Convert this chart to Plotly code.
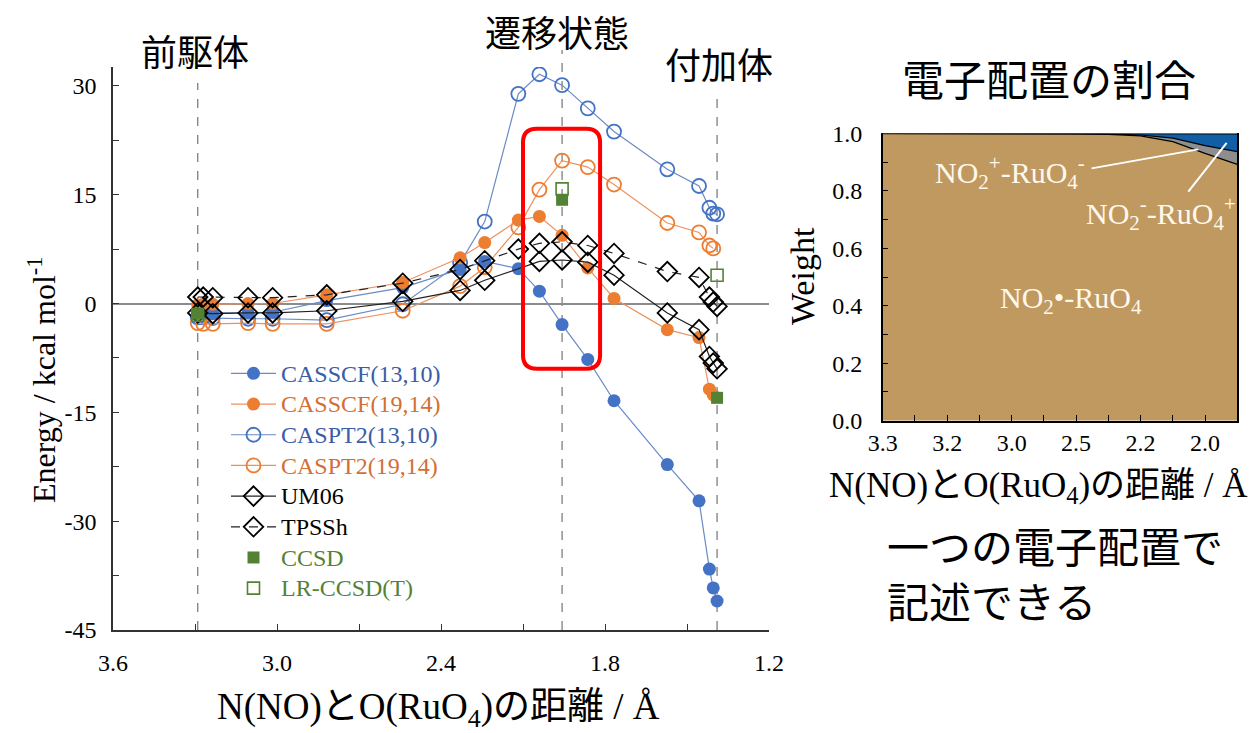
import plotly.graph_objects as go

# ---------------- data (main panel) ----------------
dist = [3.29, 3.27, 3.235, 3.106, 3.016, 2.818, 2.54, 2.33, 2.24, 2.117, 2.04,
        1.957, 1.863, 1.767, 1.572, 1.456, 1.418, 1.404, 1.39]

casscf_13_10 = [-1.3, -1.3, -1.4, -1.3, -1.2, 0.4, 2.2, 4.7, 5.8, 4.8, 1.7,
                -2.9, -7.7, -13.4, -22.2, -27.2, -36.6, -39.2, -41.0]
casscf_19_14 = [-0.2, -0.1, -0.1, 0.0, 0.0, 1.2, 2.9, 6.3, 8.4, 11.5, 12.0,
                9.4, 4.9, 0.7, -3.6, -4.7, -11.8, -12.6, None]
caspt2_13_10 = [-1.9, -1.9, -2.0, -2.1, -2.1, -2.3, -0.1, 5.6, 11.3, 28.9, 31.6,
                30.1, 26.9, 23.7, 18.5, 16.2, 13.2, 12.4, 12.3]
caspt2_19_14 = [-2.7, -2.8, -2.8, -2.7, -2.8, -2.8, -1.0, 2.4, 5.0, 10.5, 15.7,
                19.7, 18.8, 16.4, 11.1, 9.8, 8.0, 7.6, None]
um06 = [-1.3, None, -1.4, -1.3, -1.3, -1.0, 0.3, 1.8, 3.2, None, 5.8,
        6.0, 5.7, 3.9, -1.3, -3.6, -7.3, -8.2, -9.0]
tpssh = [0.9, 0.9, 0.8, 0.8, 0.8, 1.2, 2.8, 4.7, 5.9, 7.5, 8.3,
         8.5, 8.0, 6.9, 4.4, 3.6, 0.9, 0.2, -0.4]

cc_dist = [3.29, 1.957, 1.39]
ccsd = [-1.4, 14.3, -13.0]
lr_ccsd_t = [-1.6, 15.8, 3.9]

stationary_points = [3.29, 1.957, 1.39]   # precursor, TS, adduct

# ---------------- data (right panel: weights) ----------------
w_ticks = ["3.3", "3.2", "3.0", "2.5", "2.2", "2.0"]
w_index = list(range(12))
w_radical = [0.999, 0.999, 0.999, 0.999, 0.999, 0.998, 0.998, 0.996, 0.991, 0.971, 0.930, 0.892]
w_plus_minus = [0.001, 0.001, 0.001, 0.001, 0.001, 0.001, 0.001, 0.002, 0.003, 0.012, 0.027, 0.044]
w_minus_plus = [0.0, 0.0, 0.0, 0.0, 0.0, 0.001, 0.001, 0.002, 0.005, 0.015, 0.041, 0.062]
w_other = [round(1 - a - b - c, 3) for a, b, c in zip(w_radical, w_plus_minus, w_minus_plus)]

# ---------------- style ----------------
W, H = 1250, 733
SERIF = "Liberation Serif, Times New Roman, Noto Sans CJK JP, serif"
CJK = "Noto Sans CJK JP, sans-serif"
BLUE = "#4472C4"
BLUE_LINE = "#6A8AC6"
ORANGE = "#ED7D31"
ORANGE_LINE = "#EC9260"
GREEN = "#548235"
BLUE_TXT = "#3A5DA8"
ORANGE_TXT = "#D36F35"


def px(x):
    return x / W


def py(y):
    return 1 - y / H


def lname(text, color="black"):
    return f"<span style='color:{color};font-size:24px'>{text}</span>"


fig = go.Figure()

# draw order (legendrank controls legend order)
fig.add_trace(go.Scatter(
    x=dist, y=caspt2_13_10, mode="lines+markers", name=lname("CASPT2(13,10)", BLUE_TXT),
    legendrank=3, connectgaps=True,
    line=dict(color=BLUE_LINE, width=1.2),
    marker=dict(symbol="circle-open", size=14, color=BLUE, line=dict(width=1.8, color=BLUE))))
fig.add_trace(go.Scatter(
    x=dist, y=caspt2_19_14, mode="lines+markers", name=lname("CASPT2(19,14)", ORANGE_TXT),
    legendrank=4, connectgaps=True,
    line=dict(color=ORANGE_LINE, width=1.2),
    marker=dict(symbol="circle-open", size=14, color=ORANGE, line=dict(width=1.8, color=ORANGE))))
fig.add_trace(go.Scatter(
    x=dist, y=casscf_13_10, mode="lines+markers", name=lname("CASSCF(13,10)", BLUE_TXT),
    legendrank=1, connectgaps=True,
    line=dict(color=BLUE_LINE, width=1.2),
    marker=dict(symbol="circle", size=13, color=BLUE, line=dict(width=0))))
fig.add_trace(go.Scatter(
    x=dist, y=casscf_19_14, mode="lines+markers", name=lname("CASSCF(19,14)", ORANGE_TXT),
    legendrank=2, connectgaps=True,
    line=dict(color=ORANGE_LINE, width=1.2),
    marker=dict(symbol="circle", size=13, color=ORANGE, line=dict(width=0))))
fig.add_trace(go.Scatter(
    x=dist, y=um06, mode="lines+markers", name=lname("UM06"),
    legendrank=5, connectgaps=True,
    line=dict(color="#222222", width=1.2),
    marker=dict(symbol="diamond-open", size=15, color="black", line=dict(width=1.8, color="black"))))
fig.add_trace(go.Scatter(
    x=dist, y=tpssh, mode="lines+markers", name=lname("TPSSh"),
    legendrank=6, connectgaps=True,
    line=dict(color="#222222", width=1.2, dash="dash"),
    marker=dict(symbol="diamond-open", size=15, color="black", line=dict(width=1.8, color="black"))))
fig.add_trace(go.Scatter(
    x=cc_dist, y=lr_ccsd_t, mode="markers", name=lname("LR-CCSD(T)", GREEN),
    legendrank=8,
    marker=dict(symbol="square-open", size=12, color=GREEN, line=dict(width=1.6, color=GREEN))))
fig.add_trace(go.Scatter(
    x=cc_dist, y=ccsd, mode="markers", name=lname("CCSD", GREEN),
    legendrank=7,
    marker=dict(symbol="square", size=12, color=GREEN, line=dict(width=0))))

# ---------------- right panel stacked areas ----------------
fig.add_trace(go.Scatter(
    x=w_index, y=w_radical, xaxis="x2", yaxis="y2", stackgroup="w", mode="lines",
    line=dict(color="black", width=1.2), fillcolor="#C09960", showlegend=False))
fig.add_trace(go.Scatter(
    x=w_index, y=w_plus_minus, xaxis="x2", yaxis="y2", stackgroup="w", mode="lines",
    line=dict(color="black", width=1.2), fillcolor="#8E8E8E", showlegend=False))
fig.add_trace(go.Scatter(
    x=w_index, y=w_minus_plus, xaxis="x2", yaxis="y2", stackgroup="w", mode="lines",
    line=dict(color="black", width=1.2), fillcolor="#105FA6", showlegend=False))
fig.add_trace(go.Scatter(
    x=w_index, y=w_other, xaxis="x2", yaxis="y2", stackgroup="w", mode="lines",
    line=dict(color="#F2B134", width=0.5), fillcolor="#F2B134", showlegend=False))

# ---------------- shapes ----------------
shapes = []
line_tops = [83, 50, 93]
for d, top in zip(stationary_points, line_tops):
    shapes.append(dict(type="line", xref="x", yref="paper", x0=d, x1=d,
                       y0=py(630), y1=py(top), layer="below",
                       line=dict(color="#7F7F7F", width=1.3, dash="dash")))

# red highlight box around the transition state (rounded rectangle)
box_left, box_right, box_top, box_bottom = 2.100, 1.818, 24.1, -9.0
rx, ry = 0.05, 1.9
path = (f"M {box_left - rx},{box_top} L {box_right + rx},{box_top} "
        f"Q {box_right},{box_top} {box_right},{box_top - ry} "
        f"L {box_right},{box_bottom + ry} "
        f"Q {box_right},{box_bottom} {box_right + rx},{box_bottom} "
        f"L {box_left - rx},{box_bottom} "
        f"Q {box_left},{box_bottom} {box_left},{box_bottom + ry} "
        f"L {box_left},{box_top - ry} "
        f"Q {box_left},{box_top} {box_left - rx},{box_top} Z")
shapes.append(dict(type="path", xref="x", yref="y", path=path, layer="above",
                   line=dict(color="#FF0000", width=4)))

# white pointer lines in right panel
shapes.append(dict(type="line", xref="x2", yref="y2", x0=6.48, y0=0.878, x1=9.79, y1=0.944,
                   line=dict(color="white", width=2)))
shapes.append(dict(type="line", xref="x2", yref="y2", x0=9.48, y0=0.797, x1=10.67, y1=0.967,
                   line=dict(color="white", width=2)))

# ---------------- annotations ----------------
ann = []


def add_text(text, x, y, size, font=SERIF, color="black", xanchor="center", angle=0,
             xref="paper", yref="paper", align="center"):
    ann.append(dict(text=text, x=x, y=y, xref=xref, yref=yref, xanchor=xanchor, yanchor="middle",
                    showarrow=False, textangle=angle, align=align,
                    font=dict(family=font, size=size, color=color)))


add_text("前駆体", px(195), py(50), 36, CJK)
add_text("遷移状態", px(557), py(31), 36, CJK)
add_text("付加体", px(719), py(63), 36, CJK)
add_text("電子配置の割合", px(1049), py(78), 42, CJK)
add_text("一つの電子配置で<br>記述できる", px(885), py(572), 42, CJK, xanchor="left", align="left")

add_text("N(NO)とO(RuO<sub>4</sub>)の距離 / Å", px(438), py(709), 37)
add_text("N(NO)とO(RuO<sub>4</sub>)の距離 / Å", px(1038), py(487), 35)
add_text("Energy / kcal mol<sup>-1</sup>", px(42), py(380), 32, angle=-90)
add_text("Weight", px(802), py(276), 34, angle=-90)

add_text("NO<sub>2</sub><sup>+</sup>-RuO<sub>4</sub><sup>-</sup>", 3.95, 0.865, 30, color="#FFF8EC",
         xref="x2", yref="y2")
add_text("NO<sub>2</sub><sup>-</sup>-RuO<sub>4</sub><sup>+</sup>", 8.62, 0.722, 30, color="#FFF8EC",
         xref="x2", yref="y2")
add_text("NO<sub>2</sub>•-RuO<sub>4</sub>", 5.85, 0.42, 30, color="#FFF8EC",
         xref="x2", yref="y2")

# ---------------- layout ----------------
fig.update_layout(
    width=W, height=H, autosize=False,
    margin=dict(l=0, r=0, t=0, b=0, pad=0, autoexpand=False),
    paper_bgcolor="white", plot_bgcolor="rgba(0,0,0,0)",
    font=dict(family=SERIF, size=24, color="black"),
    showlegend=True,
    legend=dict(x=px(226), y=py(353), xanchor="left", yanchor="top", traceorder="normal",
                bgcolor="rgba(0,0,0,0)", borderwidth=0, itemwidth=45,
                font=dict(family=SERIF, size=21.3), tracegroupgap=0),
    xaxis=dict(domain=[px(113), px(769)], range=[3.6, 1.2], anchor="y", automargin=False,
               showgrid=False, zeroline=False, showline=True, linecolor="#333333", linewidth=1.5,
               ticks="inside", ticklen=6, tickcolor="#333333", tickwidth=1.2,
               tickvals=[3.6, 3.0, 2.4, 1.8, 1.2], ticktext=["3.6", "3.0", "2.4", "1.8", "1.2"],
               minor=dict(tick0=1.2, dtick=0.3, ticks="inside", ticklen=6, tickcolor="#333333"),
               tickfont=dict(size=24), ticklabelstandoff=10),
    yaxis=dict(domain=[py(630), py(67)], range=[-45, 32.6], anchor="x", automargin=False,
               showgrid=False, zeroline=True, zerolinecolor="#8C8C8C", zerolinewidth=1.5,
               showline=True, linecolor="#333333", linewidth=1.5,
               ticks="inside", ticklen=6, tickcolor="#333333", tickwidth=1.2,
               tickvals=[30, 15, 0, -15, -30, -45], ticktext=["30", "15", "0", "-15", "-30", "-45"],
               minor=dict(tick0=0, dtick=7.5, ticks="inside", ticklen=6, tickcolor="#333333"),
               tickfont=dict(size=24), ticklabelstandoff=10),
    xaxis2=dict(domain=[px(882.7), px(1237.3)], range=[0, 11], anchor="y2", automargin=False,
                showgrid=False, zeroline=False, showline=True, linecolor="black", linewidth=1.5,
                ticks="inside", ticklen=6, tickcolor="black",
                tickvals=[0, 2, 4, 6, 8, 10], ticktext=w_ticks,
                minor=dict(tick0=0, dtick=1, ticks="inside", ticklen=6, tickcolor="black"),
                tickfont=dict(size=24), ticklabelstandoff=0),
    yaxis2=dict(domain=[py(420.7), py(133.3)], range=[0, 1.0], anchor="x2", automargin=False,
                showgrid=False, zeroline=False, showline=True, linecolor="black", linewidth=1.5,
                mirror=True,
                ticks="inside", ticklen=6, tickcolor="black",
                tickvals=[0, 0.2, 0.4, 0.6, 0.8, 1.0], ticktext=["0.0", "0.2", "0.4", "0.6", "0.8", "1.0"],
                minor=dict(tick0=0, dtick=0.1, ticks="inside", ticklen=6, tickcolor="black"),
                tickfont=dict(size=24), ticklabelstandoff=14),
    shapes=shapes,
    annotations=ann,
)

fig.write_html("out.html", config={"displayModeBar": False},
               post_script="document.body.style.margin='0px';document.body.style.overflow='hidden';")
